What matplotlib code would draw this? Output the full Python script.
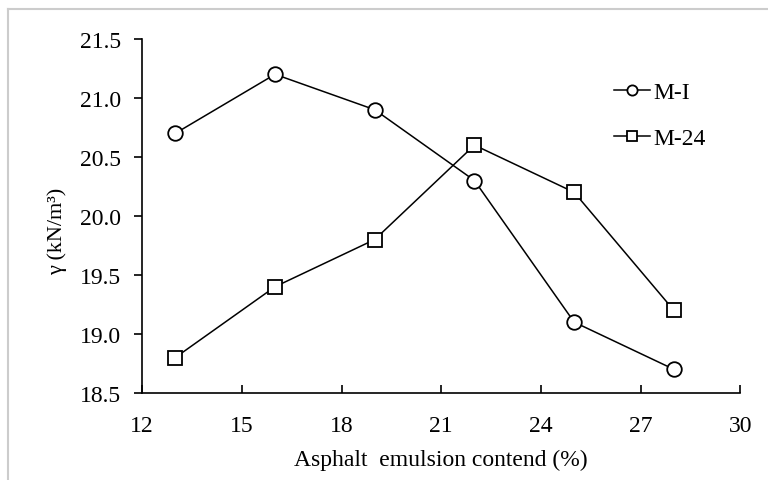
import matplotlib.pyplot as plt
from matplotlib.lines import Line2D

# данные
content = [13, 16, 19, 22, 25, 28]
m_i = [20.7, 21.2, 20.9, 20.3, 19.1, 18.7]
m_24 = [18.8, 19.4, 19.8, 20.6, 20.2, 19.2]

x_ticks = [12, 15, 18, 21, 24, 27, 30]
y_ticks = [18.5, 19.0, 19.5, 20.0, 20.5, 21.0, 21.5]

plt.rcParams['font.family'] = ['Liberation Serif', 'DejaVu Serif']

fig = plt.figure(figsize=(7.68, 4.81), dpi=100)
ax = fig.add_axes([0.185, 0.181, 0.779, 0.736])

ax.plot(content, m_i, color='black', lw=1.1, marker='o', ms=10.5,
        mfc='white', mec='black', mew=1.3, label='M-I')
ax.plot(content, m_24, color='black', lw=1.1, marker='s', ms=10.5,
        mfc='white', mec='black', mew=1.3, label='M-24')

ax.set_xlim(12, 30)
ax.set_ylim(18.5, 21.5)
ax.set_xticks(x_ticks)
ax.set_yticks(y_ticks)
ax.set_yticklabels([f'{v:.1f}' for v in y_ticks])

ax.spines['top'].set_visible(False)
ax.spines['right'].set_visible(False)
ax.spines['left'].set_linewidth(1.2)
ax.spines['bottom'].set_linewidth(1.2)
ax.tick_params(axis='x', direction='in', length=6, width=1.2, labelsize=17, pad=16)
ax.tick_params(axis='y', direction='out', length=6, width=1.2, labelsize=17, pad=9)

ax.set_xlabel('Asphalt  emulsion contend (%)', fontsize=17, labelpad=9)
# подпись оси Y ставим вручную
fig.text(57 / 768, 1 - 231 / 481, 'γ (kN/m³)', fontsize=16, rotation=90,
         ha='center', va='center')

ax.legend(loc='upper left', bbox_to_anchor=(0.788, 0.88), frameon=False,
          fontsize=17, handlelength=1.55, labelspacing=1.05, handletextpad=0.15,
          borderpad=0, borderaxespad=0, markerscale=0.7)

# рамка сверху и слева
fig.add_artist(Line2D([8 / 768, 1.0], [1 - 10 / 481] * 2, color='#cccccc', lw=1.5))
fig.add_artist(Line2D([8 / 768] * 2, [0.0, 1 - 10 / 481], color='#cccccc', lw=1.5))

fig.savefig('out.png', dpi=100)
